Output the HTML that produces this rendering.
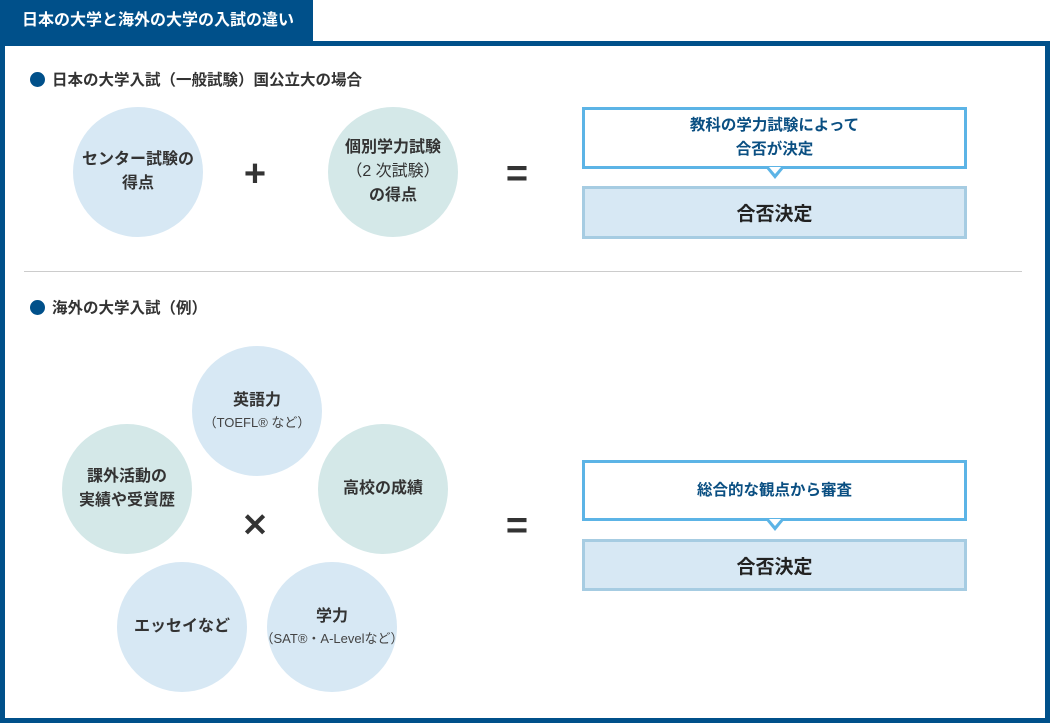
<!DOCTYPE html>
<html><head><meta charset="utf-8"><style>
*{margin:0;padding:0;box-sizing:border-box}
body{width:1050px;height:723px;position:relative;background:#fff;font-family:"Liberation Sans","Noto Sans CJK JP",sans-serif;overflow:hidden;color:#333}
.a{position:absolute}
.tab{left:0;top:0;width:313px;height:42px;background:#00508a;color:#fff;font-size:16px;font-weight:bold;line-height:42px;padding-left:22px}
.frame{left:0;top:41px;width:1050px;height:682px;border:5px solid #00508a}
.h{font-size:15.5px;font-weight:bold;color:#333;line-height:20px}
.dot{display:inline-block;width:15px;height:15px;border-radius:50%;background:#00508a;vertical-align:-2px;margin-right:7px}
.c{border-radius:50%;width:130px;height:130px;display:flex;flex-direction:column;align-items:center;justify-content:center;text-align:center;font-size:16px;font-weight:bold;line-height:24px;color:#333}
.b{background:#d7e8f4}.g{background:#d4e8e8}
.s{font-weight:normal;font-size:13px;line-height:20px;color:#444;white-space:nowrap}
.op{font-size:38px;font-weight:bold;color:#333;width:40px;text-align:center;line-height:40px}
.call{left:582px;width:385px;border:3px solid #5cb4e6;background:#fff;color:#0a4f82;font-weight:bold;font-size:15.5px;text-align:center;display:flex;align-items:center;justify-content:center;line-height:24px}
.res{left:582px;width:385px;border:3px solid #a6cce2;background:#d7e8f4;font-weight:bold;font-size:19px;color:#222;display:flex;align-items:center;justify-content:center}
.tri{width:0;height:0;border-left:9px solid transparent;border-right:9px solid transparent;border-top:11px solid #5cb4e6}
.tri2{width:0;height:0;border-left:6px solid transparent;border-right:6px solid transparent;border-top:7px solid #fff}
</style></head><body>
<div class="a frame"></div>
<div class="a tab">日本の大学と海外の大学の入試の違い</div>
<div class="a h" style="left:30px;top:71px"><span class="dot"></span>日本の大学入試（一般試験）国公立大の場合</div>
<div class="a c b" style="left:73px;top:107px">センター試験の<br>得点</div>
<div class="a op" style="left:235px;top:154px">+</div>
<div class="a c g" style="left:328px;top:107px">個別学力試験<br><span style="font-weight:normal">（2 次試験）</span>の得点</div>
<div class="a op" style="left:497px;top:154px">=</div>
<div class="a call" style="top:107px;height:62px">教科の学力試験によって<br>合否が決定</div>
<div class="a tri" style="left:766px;top:168px"></div>
<div class="a tri2" style="left:769px;top:167px"></div>
<div class="a res" style="top:186px;height:53px">合否決定</div>
<div class="a" style="left:24px;top:271px;width:998px;height:1px;background:#ccc"></div>
<div class="a h" style="left:30px;top:299px"><span class="dot"></span>海外の大学入試（例）</div>
<div class="a c b" style="left:192px;top:346px">英語力<span class="s">（TOEFL® など）</span></div>
<div class="a c g" style="left:62px;top:424px">課外活動の<br>実績や受賞歴</div>
<div class="a c g" style="left:318px;top:424px">高校の成績</div>
<div class="a c b" style="left:117px;top:562px">エッセイなど</div>
<div class="a c b" style="left:267px;top:562px">学力<span class="s">（SAT®・A-Levelなど）</span></div>
<div class="a op" style="left:235px;top:505px;font-size:32px">✕</div>
<div class="a op" style="left:497px;top:506px">=</div>
<div class="a call" style="top:460px;height:61px">総合的な観点から審査</div>
<div class="a tri" style="left:766px;top:520px"></div>
<div class="a tri2" style="left:769px;top:519px"></div>
<div class="a res" style="top:539px;height:52px">合否決定</div>
</body></html>
